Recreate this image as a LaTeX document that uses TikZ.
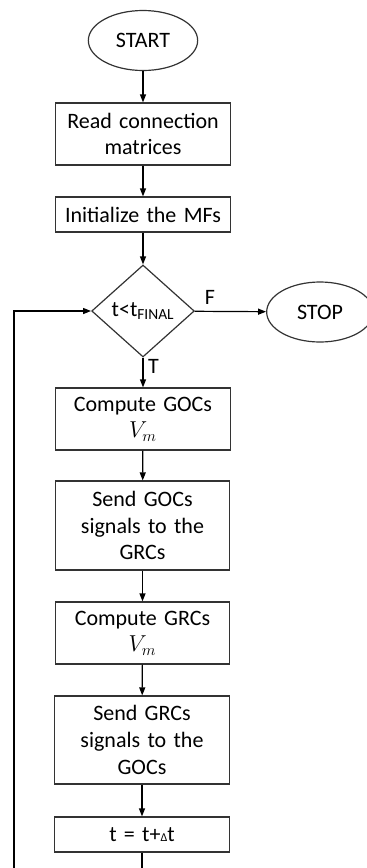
\documentclass[tikz,border=0pt]{standalone}
\usepackage{fontspec}
\setmainfont{Carlito}
\usetikzlibrary{shapes.geometric,arrows.meta}

\begin{document}
\begin{tikzpicture}[x=0.75pt,y=-0.75pt,line width=0.9pt,>={Triangle[length=6pt,width=4.5pt]},
    font=\fontsize{16.5}{20}\selectfont,
    stepbox/.style={draw=black!80,rectangle,align=center,text width=125pt,minimum width=131pt,inner sep=2pt},
    terminal/.style={draw=black!80,ellipse,minimum width=82pt,minimum height=45pt,inner sep=0pt},
    decision/.style={draw=black!80,diamond,minimum width=77pt,minimum height=69pt,inner sep=0pt}]
        \useasboundingbox (0,0) rectangle (367,868);
        \clip (0,0) rectangle (367,868);

        \node[terminal] (start) at (143,40.5) {START};
        \node[stepbox,minimum height=46.5pt] (read) at (143,134) {Read connection\\matrices};
        \draw (start) edge[->] (read);
        \node[stepbox,minimum height=26.25pt] (init) at (143,214.5) {Initialize the MFs};
        \draw (read) edge[->] (init);
        \node[decision] (cond) at (143,311) {t<t\textsubscript{FINAL}};
        \draw (init) edge[->] (cond);
        \node[terminal,minimum width=80pt] (stop) at (320,312) {STOP};
        \draw (cond) edge[->] node[anchor=south west,pos=0,xshift=4pt,yshift=1pt] {F} (stop);

        \node[stepbox,minimum height=46.5pt] (gocvm) at (143,419) {Compute GOCs\\$V_m$};
        \draw (cond) edge[->] node[right,pos=0.3] {T} (gocvm);
        \node[stepbox,minimum height=66.75pt] (gocsend) at (142.5,525.5) {Send GOCs\\signals to the\\GRCs};
        \draw (gocvm) edge[->] (gocsend);
        \node[stepbox,minimum height=46.5pt] (grcvm) at (142.5,633) {Compute GRCs\\$V_m$};
        \draw (gocsend) edge[->] (grcvm);
        \node[stepbox,minimum height=66pt] (grcsend) at (142,740) {Send GRCs\\signals to the\\GOCs};
        \draw (grcvm) edge[->] (grcsend);
        \node[stepbox,minimum height=26.25pt] (tstep) at (142,834.5) {t = t+{\small Δ}t};
        \draw (grcsend) edge[->] (tstep);

        \coordinate (back) at (14,885);
        \draw[->] (tstep) |- (back) |- (cond);
    \end{tikzpicture}
\end{document}
